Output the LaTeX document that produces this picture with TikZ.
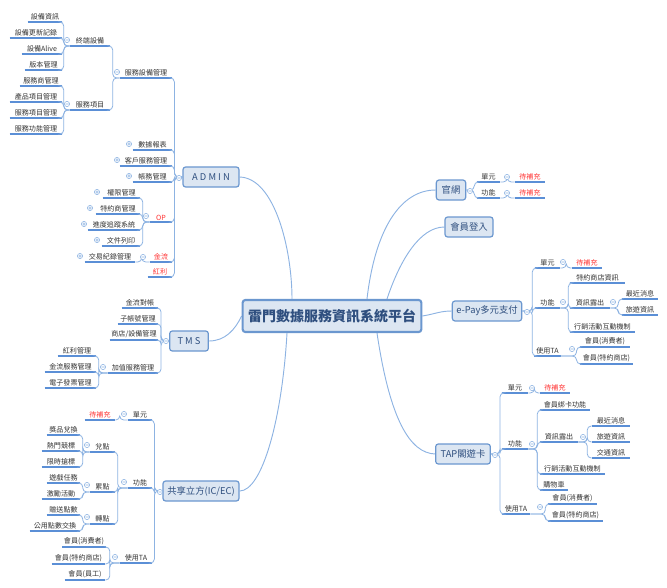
\documentclass[tikz,border=0pt]{standalone}
\usepackage{fontspec}
\setmainfont{Noto Sans CJK TC}
\usetikzlibrary{backgrounds,calc}
\definecolor{ln}{HTML}{8DB3E2}
\definecolor{ul}{HTML}{5B8FD6}
\definecolor{bx}{HTML}{6B97CF}
\definecolor{bf}{HTML}{DCE6F2}
\definecolor{tx}{HTML}{333333}
\definecolor{rd}{HTML}{FF3333}
\definecolor{ct}{HTML}{2F4F7F}
\newcommand\lf[5]{\node[leaf,minimum width={(#3-#2)*0.75pt}] (#1) at ({(#2+#3)/2},#4) {#5};}
\newcommand\cL[3]{\draw[con] (#1) -- ++(-#3,0) |- (#2.south east);}
\newcommand\cR[3]{\draw[con] (#1) -- ++(#3,0) |- (#2.south west);}
\newcommand\mn[2]{\draw[mk] (#1,#2) circle (2.6) (#1-1.5,#2) -- (#1+1.5,#2);}
\newcommand\pl[2]{\draw[mk] (#1,#2) circle (2.6) (#1-1.5,#2) -- (#1+1.5,#2) (#1,#2-1.5) -- (#1,#2+1.5);}
\newcommand\rt[1]{\textcolor{rd}{#1}}
\begin{document}
\begin{tikzpicture}[x=0.75pt,y=-0.75pt,
 leaf/.style={anchor=south,inner sep=1.2pt,font=\fontsize{5.3}{6}\selectfont,text=tx,
   append after command={(\tikzlastnode.south west) edge[draw=ul,line width=0.9pt] (\tikzlastnode.south east)}},
 box/.style={draw=bx,fill=bf,line width=0.9pt,rounded corners=2pt,font=\fontsize{7}{8}\selectfont,text=ct,minimum height=15pt,inner sep=2pt},
 con/.style={draw=ln,line width=0.6pt,rounded corners=3pt},
 mk/.style={draw=ln,fill=white,line width=0.4pt},
 rc/.style={draw=ln,line width=0.7pt}]
\useasboundingbox (0,0) rectangle (667,588);
% central and main boxes
\node[box,line width=1.6pt,minimum width=134pt,minimum height=24pt,font=\fontsize{10.5}{12}\bfseries\selectfont] (c) at (332,316) {雷門數據服務資訊系統平台};
\node[box,minimum width=42pt] (adm) at (211,177) {A D M I N};
\node[box,minimum width=29pt] (tms) at (189,341) {T M S};
\node[box,minimum width=57pt] (gx) at (201,491) {共享立方(IC/EC)};
\node[box,minimum width=22pt] (gw) at (451,190) {官網};
\node[box,minimum width=36pt] (hy) at (469,227) {會員登入};
\node[box,minimum width=52pt] (ep) at (487,311) {e-Pay多元支付};
\node[box,minimum width=41pt] (tap) at (463,454) {TAP閣遊卡};
\begin{scope}[on background layer]
\draw[rc] (adm.east) .. controls (275,178) and (292,250) .. ($(c.north)+(-40,0)$);
\draw[rc] (tms.east) .. controls (225,341) and (235,330) .. (c.west);
\draw[rc] (gx.east) .. controls (262,491) and (282,420) .. ($(c.south)+(-45,0)$);
\draw[rc] ($(c.north)+(35,0)$) .. controls (375,230) and (400,190) .. (gw.west);
\draw[rc] ($(c.north)+(55,0)$) .. controls (400,260) and (420,227) .. (hy.west);
\draw[rc] (c.east) .. controls (435,314) and (440,311) .. (ep.west);
\draw[rc] ($(c.south)+(45,0)$) .. controls (390,420) and (410,453) .. (tap.west);
\end{scope}
% ADMIN tree
\lf{a1}{120}{172}{78}{服務設備管理}
\lf{a2}{133}{172}{150}{數據報表}
\lf{a3}{120}{172}{166}{客戶服務管理}
\lf{a4}{133}{172}{182}{帳務管理}
\lf{a5}{150}{172}{222}{\rt{OP}}
\lf{a6}{150}{172}{262}{\rt{金流}}
\lf{a7}{148}{172}{277}{\rt{紅利}}
\foreach \n in {a1,a2,a3,a4,a5,a6,a7} {\cL{adm.west}{\n}{8}}
\lf{b1}{70}{110}{46}{終端設備}
\lf{b2}{70}{110}{110}{服務項目}
\cL{a1.south west}{b1}{7}\cL{a1.south west}{b2}{7}
\lf{d1}{28}{62}{22}{設備資訊}
\lf{d2}{10}{62}{38}{設備更新記錄}
\lf{d3}{22}{62}{54}{設備Alive}
\lf{d4}{25}{62}{70}{版本管理}
\foreach \n in {d1,d2,d3,d4} {\cL{b1.south west}{\n}{6}}
\lf{e1}{20}{62}{86}{服務商管理}
\lf{e2}{10}{62}{102}{產品項目管理}
\lf{e3}{10}{62}{118}{服務項目管理}
\lf{e4}{10}{62}{134}{服務功能管理}
\foreach \n in {e1,e2,e3,e4} {\cL{b2.south west}{\n}{6}}
\lf{o1}{103}{140}{198}{權限管理}
\lf{o2}{96}{140}{214}{特約商管理}
\lf{o3}{88}{140}{230}{進度追蹤系統}
\lf{o4}{102}{140}{246}{文件列印}
\foreach \n in {o1,o2,o3,o4} {\cL{a5.south west}{\n}{7}}
\lf{j1}{85}{135}{262}{交易紀錄管理}
\cL{a6.south west}{j1}{8}
\mn{179}{178}\mn{117}{72}\mn{67}{40}\mn{67}{104}\mn{146}{216}\mn{143}{257}
\pl{129}{144}\pl{117}{160}\pl{129}{176}\pl{97}{192}\pl{90}{208}\pl{84}{224}\pl{97}{240}\pl{80}{256}
% TMS tree
\lf{t1}{122}{158}{308}{金流對帳}
\lf{t2}{118}{158}{324}{子帳號管理}
\lf{t3}{110}{158}{340}{商店/設備管理}
\lf{t4}{108}{158}{373}{加值服務管理}
\foreach \n in {t1,t2,t3,t4} {\cL{tms.west}{\n}{8}}
\lf{u1}{58}{96}{356}{紅利管理}
\lf{u2}{45}{96}{372}{金流服務管理}
\lf{u3}{45}{96}{388}{電子發票管理}
\foreach \n in {u1,u2,u3} {\cL{t4.south west}{\n}{9}}
\mn{166}{341}\mn{103}{367}
% 共享立方 tree
\lf{g1}{128}{152}{420}{單元}
\lf{g2}{128}{152}{488}{功能}
\lf{g3}{120}{152}{563}{使用TA}
\foreach \n in {g1,g2,g3} {\cL{gx.west}{\n}{8}}
\lf{g1a}{85}{115}{420}{\rt{待補充}}
\cL{g1.south west}{g1a}{8}
\lf{h1}{90}{115}{452}{兌點}
\lf{h2}{90}{115}{492}{累點}
\lf{h3}{90}{115}{524}{轉點}
\foreach \n in {h1,h2,h3} {\cL{g2.south west}{\n}{10}}
\lf{k1}{47}{80}{435}{獎品兌換}
\lf{k2}{42}{80}{451}{熱門競標}
\lf{k3}{42}{80}{467}{限時搶標}
\foreach \n in {k1,k2,k3} {\cL{h1.south west}{\n}{7}}
\lf{k4}{47}{80}{483}{遊戲任務}
\lf{k5}{42}{80}{499}{激勵活動}
\foreach \n in {k4,k5} {\cL{h2.south west}{\n}{7}}
\lf{k6}{47}{80}{515}{贈送點數}
\lf{k7}{30}{80}{531}{公用點數交換}
\foreach \n in {k6,k7} {\cL{h3.south west}{\n}{7}}
\lf{m1}{63}{105}{547}{會員(消費者)}
\lf{m2}{52}{105}{564}{會員(特約商店)}
\lf{m3}{65}{105}{580}{會員(員工)}
\foreach \n in {m1,m2,m3} {\cL{g3.south west}{\n}{10}}
\mn{160}{492}\mn{124}{414}\mn{124}{482}\mn{87}{445}\mn{87}{485}\mn{87}{517}\mn{115}{557}
% 官網
\lf{w1}{477}{500}{182}{單元}
\lf{w2}{477}{500}{198}{功能}
\cR{gw.east}{w1}{8}\cR{gw.east}{w2}{8}
\lf{w1a}{515}{545}{182}{\rt{待補充}}
\lf{w2a}{515}{545}{198}{\rt{待補充}}
\cR{w1.south east}{w1a}{7}\cR{w2.south east}{w2a}{7}
\mn{470}{191}\mn{507}{177}\mn{507}{193}
% e-Pay
\lf{p1}{535}{560}{268}{單元}
\lf{p2}{535}{560}{308}{功能}
\lf{p3}{535}{560}{356}{使用TA}
\foreach \n in {p1,p2,p3} {\cR{ep.east}{\n}{10}}
\lf{p1a}{572}{602}{268}{\rt{待補充}}
\cR{p1.south east}{p1a}{6}
\lf{q1}{570}{625}{283}{特約商店資訊}
\lf{q2}{570}{610}{308}{資訊露出}
\lf{q3}{570}{635}{332}{行銷活動互動機制}
\foreach \n in {q1,q2,q3} {\cR{p2.south east}{\n}{8}}
\lf{r1}{622}{658}{299}{最近消息}
\lf{r2}{622}{658}{315}{旅遊資訊}
\cR{q2.south east}{r1}{8}\cR{q2.south east}{r2}{8}
\lf{s1}{580}{630}{347}{會員(消費者)}
\lf{s2}{580}{633}{364}{會員(特約商店)}
\cR{p3.south east}{s1}{16}\cR{p3.south east}{s2}{16}
\mn{527}{312}\mn{563}{262}\mn{563}{302}\mn{613}{302}\mn{572}{349}
% TAP
\lf{v1}{502}{528}{393}{單元}
\lf{v2}{502}{528}{449}{功能}
\lf{v3}{502}{530}{514}{使用TA}
\foreach \n in {v1,v2,v3} {\cR{tap.east}{\n}{9}}
\lf{v1a}{540}{570}{393}{\rt{待補充}}
\cR{v1.south east}{v1a}{6}
\lf{x1}{540}{590}{410}{會員綁卡功能}
\lf{x2}{540}{578}{442}{資訊露出}
\lf{x3}{540}{605}{474}{行銷活動互動機制}
\lf{x4}{540}{568}{490}{購物車}
\foreach \n in {x1,x2,x3,x4} {\cR{v2.south east}{\n}{9}}
\lf{y1}{592}{630}{426}{最近消息}
\lf{y2}{592}{630}{442}{旅遊資訊}
\lf{y3}{592}{630}{458}{交通資訊}
\foreach \n in {y1,y2,y3} {\cR{x2.south east}{\n}{9}}
\lf{z1}{548}{597}{504}{會員(消費者)}
\lf{z2}{548}{603}{521}{會員(特約商店)}
\cR{v3.south east}{z1}{15}\cR{v3.south east}{z2}{15}
\mn{495}{455}\mn{532}{388}\mn{532}{444}\mn{583}{437}\mn{540}{507}
\end{tikzpicture}
\end{document}
